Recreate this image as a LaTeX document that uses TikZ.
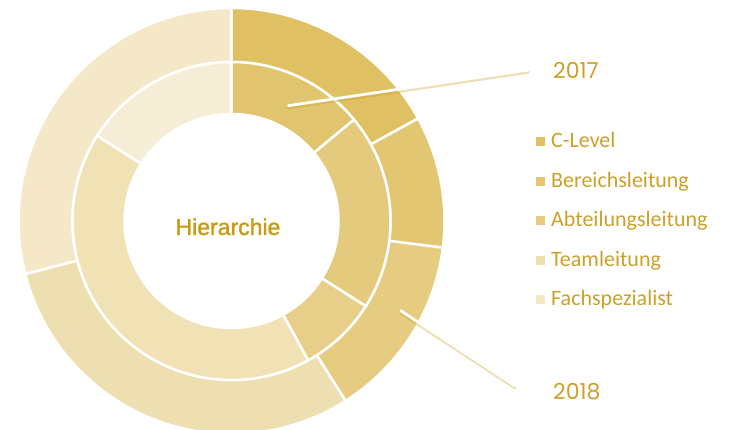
\documentclass[tikz,border=0pt]{standalone}
\usepackage{fontspec}
\setmainfont{Carlito}
\newfontfamily\yearfont{Poppins}
\newfontfamily\hubfont[FakeBold=1.3]{Liberation Sans}

\definecolor{goldtext}{RGB}{204,160,40}
\definecolor{hubgold}{RGB}{200,154,16}
% outer ring (2018)
\definecolor{clv}{HTML}{DFC063}
\definecolor{brl}{HTML}{E2C671}
\definecolor{atl}{HTML}{E5CC80}
\definecolor{tml}{HTML}{EEDFB0}
\definecolor{fsp}{HTML}{F4E8C8}
% inner ring (2017)
\definecolor{clvi}{HTML}{E1C46E}
\definecolor{brli}{HTML}{E4CA7C}
\definecolor{atli}{HTML}{E7CF8A}
\definecolor{tmli}{HTML}{F0E2B5}
\definecolor{fspi}{HTML}{F6EDD6}

\begin{document}
\begin{tikzpicture}[x=1pt,y=1pt]
	\tikzset{segment/.style = {draw=white, line width=2.5pt, line join=round},
		keybox/.style = {shape=rectangle, minimum size=9pt, inner sep=0pt},
		keytext/.style = {anchor=base west, inner sep=0pt, text=goldtext, font=\fontsize{22}{24}\selectfont},
		yeartext/.style = {anchor=base west, inner sep=0pt, text=goldtext, font=\yearfont\fontsize{22}{24}\selectfont},
		leader/.style = {draw=white, line width=2.8pt, line cap=round},
		leadershadow/.style = {draw=goldtext, opacity=0.35, line width=3.4pt, line cap=round}}

	\useasboundingbox (-231.5,-209) rectangle (499.5,221);

	% 2018
	\foreach \from/\to/\col in {0/61.2/clv, 61.2/97.2/brl, 97.2/147.6/atl, 147.6/255.6/tml, 255.6/360/fsp}
		\filldraw[segment, fill=\col] ({90-\from}:159pt) arc[start angle=90-\from, end angle=90-\to, radius=159pt]
			-- ({90-\to}:213pt) arc[start angle=90-\to, end angle=90-\from, radius=213pt] -- cycle;

	% 2017
	\foreach \from/\to/\col in {0/50.4/clvi, 50.4/122.4/brli, 122.4/151.2/atli, 151.2/302.4/tmli, 302.4/360/fspi}
		\filldraw[segment, fill=\col] ({90-\from}:107pt) arc[start angle=90-\from, end angle=90-\to, radius=107pt]
			-- ({90-\to}:159pt) arc[start angle=90-\to, end angle=90-\from, radius=159pt] -- cycle;

	\node[inner sep=0pt, anchor=base, text=hubgold, font=\hubfont\fontsize{23}{25}\selectfont] (hub) at (-3.5,-14) {Hierarchie};

	\node[yeartext] (y17) at (321.5,142.7) {2017};
	\node[yeartext] (y18) at (321.5,-178.3) {2018};

	\coordinate (in17) at (56.8,115.3);
	\coordinate (out17) at (296.8,151);
	\coordinate (in18) at (169.2,-89.7);
	\coordinate (out18) at (283.5,-164.7);

	\draw[leadershadow] ([yshift=-2pt]in17) -- ([yshift=-2pt]out17);
	\draw[leader] (in17) -- (out17);
	\draw[leadershadow] ([yshift=-2pt]in18) -- ([yshift=-2pt]out18);
	\draw[leader] (in18) -- (out18);

	\node[keybox, fill=clv] (k_1) at (308.5,79) {};
	\node[keytext] (t_1) at (319.5,73) {C-Level};
	\node[keybox, fill=brl] (k_2) at (308.5,39.5) {};
	\node[keytext] (t_2) at (319.5,33.5) {Bereichsleitung};
	\node[keybox, fill=atl] (k_3) at (308.5,0) {};
	\node[keytext] (t_3) at (319.5,-6) {Abteilungsleitung};
	\node[keybox, fill=tml] (k_4) at (308.5,-39.5) {};
	\node[keytext] (t_4) at (319.5,-45.5) {Teamleitung};
	\node[keybox, fill=fsp] (k_5) at (308.5,-79) {};
	\node[keytext] (t_5) at (319.5,-85) {Fachspezialist};

\end{tikzpicture}
\end{document}
